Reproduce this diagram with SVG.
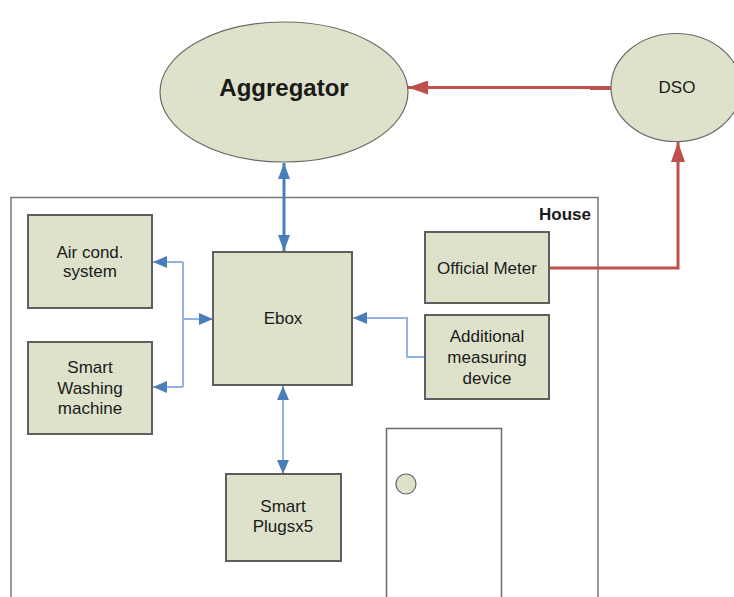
<svg xmlns="http://www.w3.org/2000/svg" width="734" height="597" viewBox="0 0 734 597">
  <defs>
    <style>
      .node { fill: #dee2cb; stroke: #5f5f5f; stroke-width: 2; }
      .oval { fill: #dee2cb; stroke: #6a6a6a; stroke-width: 1.2; }
      .house { fill: none; stroke: #767676; stroke-width: 1.5; }
      .door { fill: #ffffff; stroke: #6a6a6a; stroke-width: 1.5; }
      .lbl { font-family: "Liberation Sans", Arial, sans-serif; font-size: 17px; fill: #1a1a1a; text-anchor: middle; }
      .bold { font-weight: bold; }
      .link-main { fill: none; stroke: #4a7ebb; stroke-width: 3; }
      .link-thin { fill: none; stroke: #8fb3e3; stroke-width: 2; }
      .link-red { fill: none; stroke: #c0504d; stroke-width: 3; }
    </style>
    <marker id="headBlue" viewBox="0 0 14 12" refX="14" refY="6" markerWidth="14" markerHeight="12" markerUnits="userSpaceOnUse" orient="auto-start-reverse">
      <path d="M0,0 L14,6 L0,12 Z" fill="#4a7ebb"/>
    </marker>
    <marker id="headBlueBig" viewBox="0 0 16 12" refX="16" refY="6" markerWidth="16" markerHeight="12" markerUnits="userSpaceOnUse" orient="auto-start-reverse">
      <path d="M0,0 L16,6 L0,12 Z" fill="#4a7ebb"/>
    </marker>
    <marker id="headRed" viewBox="0 0 20 14" refX="20" refY="7" markerWidth="20" markerHeight="14" markerUnits="userSpaceOnUse" orient="auto">
      <path d="M0,0 L20,7 L0,14 Z" fill="#c0504d"/>
    </marker>
  </defs>

  <!-- house outline and door -->
  <g id="house">
    <rect class="house" x="11" y="197.5" width="587" height="420"/>
    <text class="lbl bold" x="591" y="220" style="text-anchor:end">House</text>
  </g>
  <g id="door">
    <rect class="door" x="386.5" y="428.5" width="115" height="190"/>
    <circle cx="406" cy="484" r="10" fill="#dee2cb" stroke="#6a6a6a" stroke-width="1.2"/>
  </g>

  <!-- connectors -->
  <g id="connectors">
    <!-- Aggregator <-> Ebox -->
    <path class="link-main" d="M284,163 L284,251" marker-start="url(#headBlueBig)" marker-end="url(#headBlueBig)"/>
    <!-- Ebox <-> Smart Plugs -->
    <path class="link-thin" d="M283,386 L283,474" marker-start="url(#headBlue)" marker-end="url(#headBlue)"/>
    <!-- Ebox to appliances -->
    <path class="link-thin" d="M183,262 L183,387"/>
    <path class="link-thin" d="M183,262 L153,262" marker-end="url(#headBlue)"/>
    <path class="link-thin" d="M183,387 L153,387" marker-end="url(#headBlue)"/>
    <path class="link-thin" d="M183,319 L213,319" marker-end="url(#headBlue)"/>
    <!-- Additional measuring device to Ebox -->
    <path class="link-thin" d="M425,357 L407,357 L407,318 L353,318" marker-end="url(#headBlue)"/>
    <!-- DSO to Aggregator -->
    <path class="link-red" d="M612,87.5 L408,87.5" marker-end="url(#headRed)"/>
    <path d="M590,88.5 L612,88.5" stroke="#c0504d" stroke-width="3"/>
    <!-- Official Meter to DSO -->
    <path class="link-red" d="M549,268 L678,268 L678,142" marker-end="url(#headRed)"/>
  </g>

  <!-- nodes -->
  <g id="aggregator">
    <ellipse class="oval" cx="284" cy="92" rx="124" ry="70"/>
    <text class="lbl bold" x="284" y="96" style="font-size:24px">Aggregator</text>
  </g>
  <g id="dso">
    <ellipse class="oval" cx="676" cy="87.5" rx="65" ry="54"/>
    <text class="lbl" x="677" y="93">DSO</text>
  </g>
  <g id="air-cond">
    <rect class="node" x="28" y="215" width="124" height="93"/>
    <text class="lbl" x="90" y="258">Air cond.</text>
    <text class="lbl" x="90" y="277">system</text>
  </g>
  <g id="washing-machine">
    <rect class="node" x="28" y="342" width="124" height="92"/>
    <text class="lbl" x="90" y="373">Smart</text>
    <text class="lbl" x="90" y="394">Washing</text>
    <text class="lbl" x="90" y="414">machine</text>
  </g>
  <g id="ebox">
    <rect class="node" x="213" y="252" width="139" height="133"/>
    <text class="lbl" x="283" y="324">Ebox</text>
  </g>
  <g id="official-meter">
    <rect class="node" x="425" y="232" width="124" height="71"/>
    <text class="lbl" x="487" y="274">Official Meter</text>
  </g>
  <g id="measuring-device">
    <rect class="node" x="425" y="315" width="124" height="84"/>
    <text class="lbl" x="487" y="342">Additional</text>
    <text class="lbl" x="487" y="363">measuring</text>
    <text class="lbl" x="487" y="384">device</text>
  </g>
  <g id="smart-plugs">
    <rect class="node" x="226" y="474" width="115" height="87"/>
    <text class="lbl" x="283" y="512">Smart</text>
    <text class="lbl" x="283" y="532">Plugsx5</text>
  </g>
</svg>
